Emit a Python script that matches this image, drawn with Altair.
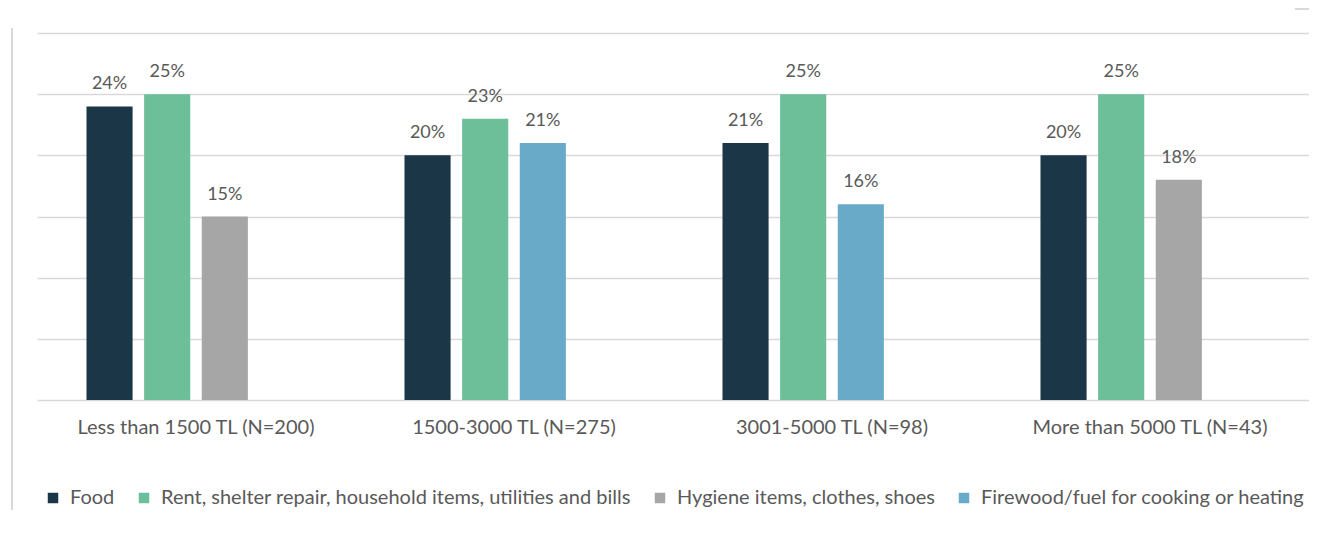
import altair as alt
import pandas as pd

groups = ["Less than 1500 TL (N=200)", "1500-3000 TL (N=275)",
          "3001-5000 TL (N=98)", "More than 5000 TL (N=43)"]
categories = ["Food",
              "Rent, shelter repair, household items, utilities and bills",
              "Hygiene items, clothes, shoes",
              "Firewood/fuel for cooking or heating"]
colors = ["#1b3646", "#6cbf98", "#a6a6a6", "#68aac8"]

food = [24, 20, 21, 20]
rent = [25, 23, 25, 25]
third_category = [2, 3, 3, 2]   # index into categories
third_value = [15, 21, 16, 18]

rows = []
for i, g in enumerate(groups):
    rows.append({"group": g, "slot": 1, "category": categories[0], "value": food[i]})
    rows.append({"group": g, "slot": 2, "category": categories[1], "value": rent[i]})
    rows.append({"group": g, "slot": 3, "category": categories[third_category[i]], "value": third_value[i]})
df = pd.DataFrame(rows)
df["label"] = df["value"].astype(str) + "%"

FONT = "Lato"
TXT = "#595959"

base = alt.Chart(df).encode(
    x=alt.X("group:N", sort=groups,
            scale=alt.Scale(paddingInner=0.275, paddingOuter=0.1375),
            axis=alt.Axis(title=None, labelAngle=0, domain=False, ticks=False,
                          labelFont=FONT, labelFontSize=20, labelColor=TXT,
                          labelPadding=17, labelLimit=0)),
    xOffset=alt.XOffset("slot:O", scale=alt.Scale(domain=[1, 2, 3, 4],
                                                  paddingInner=0.2, paddingOuter=0.1)),
    y=alt.Y("value:Q", scale=alt.Scale(domain=[0, 30]),
            axis=alt.Axis(title=None, values=[0, 5, 10, 15, 20, 25, 30],
                          labels=False, ticks=False, domain=False,
                          gridColor="#d9d9d9", gridWidth=1.5)),
)

bars = base.mark_bar().encode(
    color=alt.Color("category:N", scale=alt.Scale(domain=categories, range=colors),
                    legend=alt.Legend(title=None, orient="none", legendX=6, legendY=455,
                                      direction="horizontal", symbolType="square",
                                      symbolSize=110, symbolStrokeWidth=0,
                                      labelFont=FONT, labelFontSize=20, labelColor=TXT,
                                      columnPadding=19, labelOffset=7, labelLimit=0))
)

labels = base.mark_text(dy=-17, baseline="alphabetic", font=FONT, fontSize=18,
                        color=TXT).encode(text="label:N")

deco = pd.DataFrame({"a": [0]})
left_border = alt.Chart(deco).mark_rule(color="#d9d9d9", strokeWidth=2).encode(
    x=alt.value(-25), y=alt.value(-5), y2=alt.value(520))
top_mark = alt.Chart(deco).mark_rule(color="#d9d9d9", strokeWidth=2).encode(
    x=alt.value(1258), x2=alt.value(1290), y=alt.value(-24))

chart = alt.layer(bars, labels, left_border, top_mark).properties(
    width=1272, height=367,
    autosize=alt.AutoSizeParams(type="none"),
    padding={"left": 29, "top": 25, "right": 0, "bottom": 110},
).configure_view(stroke=None)

chart.save("out.html", embed_options={"renderer": "svg", "actions": False})
